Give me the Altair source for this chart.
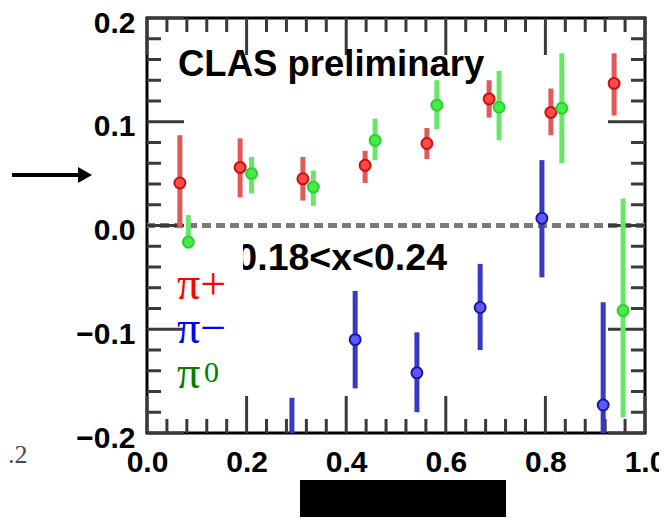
import altair as alt
import pandas as pd

W, H = 498, 415

# ---- data ----
series_names = ["π+", "π−", "π0"]

pip_x = [0.066, 0.187, 0.313, 0.438, 0.562, 0.687, 0.811, 0.938]
pip_y = [0.041, 0.056, 0.045, 0.058, 0.079, 0.122, 0.109, 0.137]
pip_lo = [-0.002, 0.027, 0.024, 0.041, 0.064, 0.104, 0.087, 0.106]
pip_hi = [0.087, 0.084, 0.066, 0.072, 0.094, 0.140, 0.132, 0.166]

pim_x = [0.291, 0.418, 0.542, 0.669, 0.793, 0.916]
pim_y = [-0.240, -0.110, -0.142, -0.079, 0.007, -0.173]
pim_lo = [-0.290, -0.157, -0.180, -0.120, -0.050, -0.215]
pim_hi = [-0.166, -0.063, -0.103, -0.037, 0.063, -0.074]

pi0_x = [0.083, 0.210, 0.334, 0.458, 0.582, 0.707, 0.833, 0.956]
pi0_y = [-0.016, 0.050, 0.037, 0.082, 0.116, 0.114, 0.113, -0.082]
pi0_lo = [-0.022, 0.031, 0.019, 0.063, 0.093, 0.082, 0.060, -0.185]
pi0_hi = [0.010, 0.066, 0.053, 0.103, 0.140, 0.149, 0.166, 0.026]

x_major = [0.0, 0.2, 0.4, 0.6, 0.8, 1.0]
x_minor = [0.04, 0.08, 0.12, 0.16, 0.24, 0.28, 0.32, 0.36, 0.44, 0.48, 0.52, 0.56,
           0.64, 0.68, 0.72, 0.76, 0.84, 0.88, 0.92, 0.96]
y_major = [-0.2, -0.1, 0.0, 0.1, 0.2]
y_minor = [-0.18, -0.16, -0.14, -0.12, -0.08, -0.06, -0.04, -0.02,
           0.02, 0.04, 0.06, 0.08, 0.12, 0.14, 0.16, 0.18]

rows = []
for name, xs, ys, los, his in [
    ("π+", pip_x, pip_y, pip_lo, pip_hi),
    ("π−", pim_x, pim_y, pim_lo, pim_hi),
    ("π0", pi0_x, pi0_y, pi0_lo, pi0_hi),
]:
    for a, b, c, d in zip(xs, ys, los, his):
        rows.append({"series": name, "x": a, "y": b, "lo": c, "hi": d})
df = pd.DataFrame(rows)

xmaj = pd.DataFrame({"t": x_major})
xmin = pd.DataFrame({"t": x_minor})
ymaj = pd.DataFrame({"t": y_major})
ymin = pd.DataFrame({"t": y_minor})

xscale = alt.Scale(domain=[0, 1], nice=False, zero=False)
yscale = alt.Scale(domain=[-0.2, 0.2], nice=False, zero=False)

label_font = "Liberation Sans"
xaxis = alt.Axis(values=x_major, format=".1f", ticks=False, domain=False, grid=False,
                 labelFont=label_font, labelFontSize=30, labelFontWeight="bold",
                 labelColor="black", labelPadding=14, labelFlush=False, title=None)
yaxis = alt.Axis(values=y_major, format=".1f", ticks=False, domain=False, grid=False,
                 labelFont=label_font, labelFontSize=30, labelFontWeight="bold",
                 labelColor="black", labelPadding=12, labelOffset=5, title=None)

bar_colors = alt.Scale(domain=series_names, range=["#e05a5a", "#3a3ac0", "#66e866"])
fill_colors = alt.Scale(domain=series_names, range=["#ff4a4a", "#5a5aff", "#44ee44"])
stroke_colors = alt.Scale(domain=series_names, range=["#cc1010", "#1a1aa0", "#33cc33"])

X = alt.X("x:Q", scale=xscale, axis=xaxis)
Y = alt.Y("y:Q", scale=yscale, axis=yaxis)

base = alt.Chart(df)

zero_line = alt.Chart(pd.DataFrame({"z": [0.0]})).mark_rule(
    color="#7a7a7a", strokeWidth=5, strokeDash=[9, 5]
).encode(y=alt.Y("z:Q", scale=yscale, axis=yaxis))

errbars = base.mark_rule(strokeWidth=5, clip=True).encode(
    x=X, y=alt.Y("lo:Q", scale=yscale, axis=yaxis), y2="hi:Q",
    color=alt.Color("series:N", scale=bar_colors, legend=None),
)

points = base.mark_point(shape="circle", filled=True, size=120, strokeWidth=2,
                         opacity=1, clip=True).encode(
    x=X, y=Y,
    fill=alt.Fill("series:N", scale=fill_colors, legend=None),
    stroke=alt.Stroke("series:N", scale=stroke_colors, legend=None),
)

tick_color = "#3a3a3a"
TX = alt.X("t:Q", scale=xscale, axis=xaxis)
TY = alt.Y("t:Q", scale=yscale, axis=yaxis)
MAJ, MIN = 37, 14

ticks = [
    alt.Chart(xmaj).mark_rule(color=tick_color, strokeWidth=3).encode(x=TX, y=alt.value(H), y2=alt.value(H - MAJ)),
    alt.Chart(xmaj).mark_rule(color=tick_color, strokeWidth=3).encode(x=TX, y=alt.value(0), y2=alt.value(MAJ)),
    alt.Chart(xmin).mark_rule(color=tick_color, strokeWidth=3).encode(x=TX, y=alt.value(H), y2=alt.value(H - MIN)),
    alt.Chart(xmin).mark_rule(color=tick_color, strokeWidth=3).encode(x=TX, y=alt.value(0), y2=alt.value(MIN)),
    alt.Chart(ymaj).mark_rule(color=tick_color, strokeWidth=3).encode(y=TY, x=alt.value(0), x2=alt.value(MAJ)),
    alt.Chart(ymaj).mark_rule(color=tick_color, strokeWidth=3).encode(y=TY, x=alt.value(W), x2=alt.value(W - MAJ)),
    alt.Chart(ymin).mark_rule(color=tick_color, strokeWidth=3).encode(y=TY, x=alt.value(0), x2=alt.value(MIN)),
    alt.Chart(ymin).mark_rule(color=tick_color, strokeWidth=3).encode(y=TY, x=alt.value(W), x2=alt.value(W - MIN)),
]

one = pd.DataFrame({"d": [0]})


def txt(text, x, y, size, color="black", font=label_font, weight="bold", align="left"):
    return alt.Chart(one).mark_text(
        text=text, font=font, fontSize=size, fontWeight=weight, color=color,
        align=align, baseline="alphabetic"
    ).encode(x=alt.value(x), y=alt.value(y))


serif = "Liberation Serif"
texts = [
    txt("CLAS preliminary", 31, 58, 36.5),
    txt("0.18<x<0.24", 300, 252, 37.5, align="right"),
    txt("π+", 30, 281, 46, color="#ff0000", font=serif, weight="normal"),
    txt("π−", 30, 325, 46, color="#0000ff", font=serif, weight="normal"),
    txt("π", 30, 370, 46, color="#008000", font=serif, weight="normal"),
    txt("0", 57, 364, 30, color="#008000", font=serif, weight="normal"),
    txt(".2", -139, 445, 26, color="#3a4a6a", font=serif, weight="normal"),
]

# white patch hiding left part of the leading "0" of the bin label
patch = alt.Chart(one).mark_rect(color="white").encode(
    x=alt.value(82), x2=alt.value(96), y=alt.value(221), y2=alt.value(256))

# black block at the bottom
block = alt.Chart(one).mark_rect(color="black").encode(
    x=alt.value(153), x2=alt.value(359), y=alt.value(462), y2=alt.value(530))

# arrow on the left
arrow_line = alt.Chart(one).mark_rule(color="black", strokeWidth=4).encode(
    x=alt.value(-135), x2=alt.value(-65), y=alt.value(157))
arrow_head = alt.Chart(one).mark_point(shape="triangle-right", filled=True, color="black",
                                        size=260, opacity=1).encode(
    x=alt.value(-62), y=alt.value(157))

chart = alt.layer(
    zero_line, *ticks, errbars, points, *texts, patch, block, arrow_line, arrow_head
).properties(
    width=W, height=H,
    autosize=alt.AutoSizeParams(type="none"),
    padding={"left": 139, "top": 10, "right": 14, "bottom": 84},
).configure_view(stroke="black", strokeWidth=3)

chart.save("out.html", embed_options={"renderer": "svg", "actions": False})
